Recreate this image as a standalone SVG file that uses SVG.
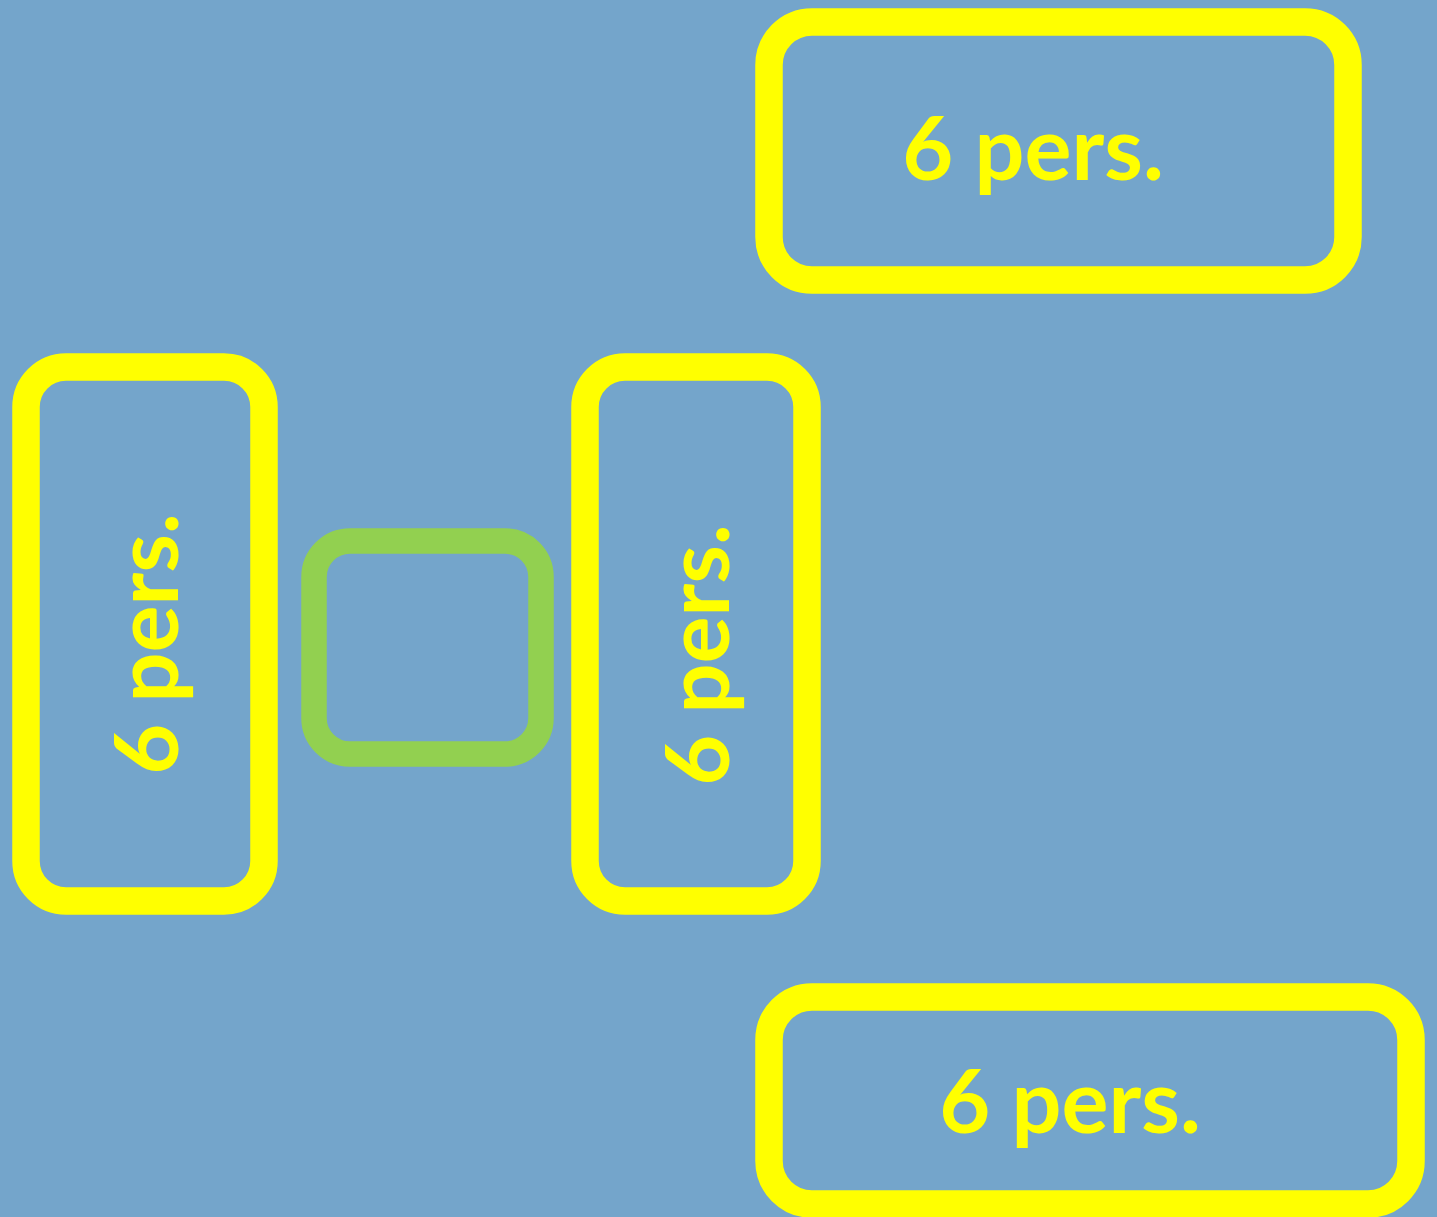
<svg xmlns="http://www.w3.org/2000/svg" width="1437" height="1217" viewBox="0 0 1437 1217">
<style>
.box{fill:none;stroke:#FFFF00;stroke-width:27.5}
.green{fill:none;stroke:#92D050;stroke-width:25.5}
.lbl{font-family:Lato,"Open Sans","Liberation Sans",sans-serif;font-weight:bold;font-size:88px;fill:#FFFF00;text-anchor:middle}
</style>
<rect x="0" y="0" width="1437" height="1217" fill="#74A5CB"/>
<g id="table-top">
<rect class="box" x="769" y="22" width="579" height="258" rx="43" ry="43"/>
<text class="lbl" x="1033" y="180">6 pers.</text>
</g>
<g id="table-left">
<rect class="box" x="26" y="367" width="238" height="534" rx="40" ry="40"/>
<text class="lbl" transform="translate(178,644) rotate(-90)" x="0" y="0">6 pers.</text>
</g>
<g id="table-middle">
<rect class="box" x="585" y="367" width="222" height="534" rx="40" ry="40"/>
<text class="lbl" transform="translate(729,655) rotate(-90)" x="0" y="0">6 pers.</text>
</g>
<g id="green-square">
<rect class="green" x="314" y="541" width="227" height="213" rx="36" ry="36"/>
</g>
<g id="table-bottom">
<rect class="box" x="769" y="997" width="642" height="207" rx="43" ry="43"/>
<text class="lbl" x="1070" y="1133">6 pers.</text>
</g>
<g id="connectors"></g>
</svg>
